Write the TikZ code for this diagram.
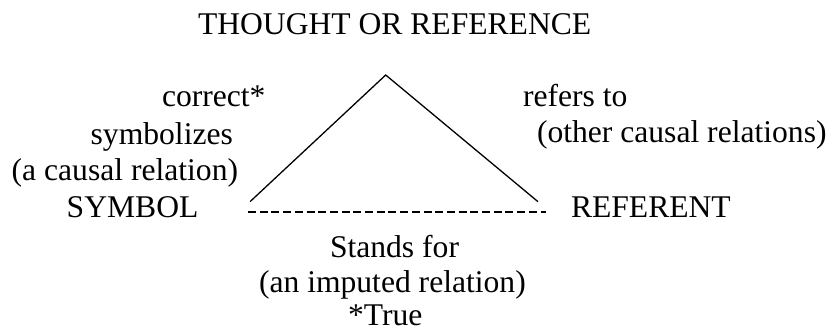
\documentclass[tikz,border=0pt]{standalone}
\usepackage{fontspec}
\setmainfont{Liberation Serif}
\begin{document}
\begin{tikzpicture}[x=1pt,y=-1pt,
  lbl/.style={anchor=base west,inner sep=0pt,outer sep=0pt,font=\fontsize{31.6}{38}\selectfont},
  side/.style={line width=1.3pt,black},
  dashline/.style={line width=1.8pt,dash pattern=on 8pt off 3.7pt}]
\useasboundingbox (0,0) rectangle (832,331);
\node[lbl] (thought) at (198,35) {THOUGHT OR REFERENCE};
\node[lbl] (correct) at (162,107) {correct*};
\node[lbl] (symbolizes) at (90.7,145) {symbolizes};
\node[lbl] (causal) at (11.7,181) {(a causal relation)};
\node[lbl] (symbol) at (66.7,218) {SYMBOL};
\node[lbl] (refers) at (523,107) {refers to};
\node[lbl] (other) at (537,143) {(other causal relations)};
\node[lbl] (referent) at (571,218) {REFERENT};
\node[lbl] (stands) at (330,257) {Stands for};
\node[lbl] (imputed) at (259,292) {(an imputed relation)};
\node[lbl] (true) at (348,325) {*True};
\coordinate (apex) at (385.7,75);
\coordinate (bl) at (250,201.7);
\coordinate (br) at (538,201.7);
\coordinate (dl) at (248,211.7);
\coordinate (dr) at (546,211.7);
\draw[side] (bl) -- (apex) -- (br);
\draw[dashline] (dl) -- (dr);
\end{tikzpicture}
\end{document}
